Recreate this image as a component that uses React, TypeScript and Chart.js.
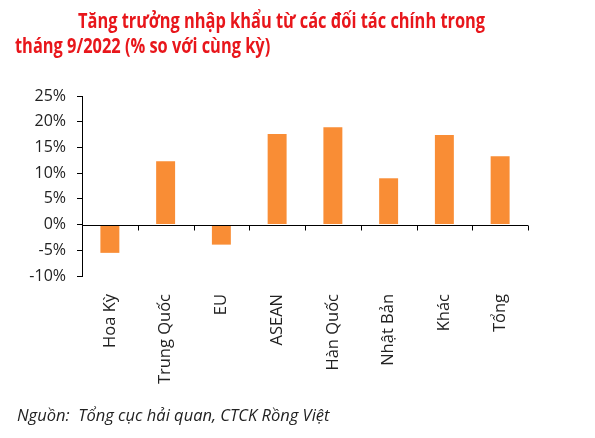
import React, { useEffect, useRef } from "react";
import { Chart, registerables } from "chart.js";

Chart.register(...registerables);

const categories = ["Hoa Kỳ", "Trung Quốc", "EU", "ASEAN", "Hàn Quốc", "Nhật Bản", "Khác", "Tổng"];
const growth = [-5.5, 12.3, -3.9, 17.6, 18.9, 9.0, 17.4, 13.3];
const yMin = -10;
const yMax = 25;
const yStep = 5;
const titleLine1 = "Tăng trưởng nhập khẩu từ các đối tác chính trong";
const titleLine2 = "tháng 9/2022 (% so với cùng kỳ)";
const sourceNote = "Nguồn:  Tổng cục hải quan, CTCK Rồng Việt";

const zeroAxisPlugin = {
  id: "zeroAxis",
  afterDatasetsDraw(chart: any) {
    const { ctx, chartArea, scales } = chart;
    const y0 = Math.round(scales.y.getPixelForValue(0)) + 0.5;
    const n = categories.length;
    ctx.save();
    ctx.strokeStyle = "#000";
    ctx.lineWidth = 1;
    ctx.beginPath();
    ctx.moveTo(chartArea.left, y0);
    ctx.lineTo(chartArea.right, y0);
    for (let i = 1; i <= n; i++) {
      const x = Math.round(chartArea.left + (i * (chartArea.right - chartArea.left)) / n) + 0.5;
      ctx.moveTo(x, y0);
      ctx.lineTo(x, y0 + 5);
    }
    ctx.stroke();
    ctx.restore();
  },
};

const titleStyle: React.CSSProperties = {
  position: "absolute",
  whiteSpace: "pre",
  fontFamily: "'Open Sans', sans-serif",
  fontWeight: "bold",
  fontSize: 21,
  lineHeight: "25px",
  color: "#E8161B",
  transformOrigin: "0 0",
  transform: "scaleX(0.78)",
};

export default function App() {
  const ref = useRef<HTMLCanvasElement | null>(null);

  useEffect(() => {
    document.body.style.margin = "0";
    const canvas = ref.current;
    if (!canvas) return;
    const chart = new Chart(canvas, {
      type: "bar",
      data: {
        labels: categories,
        datasets: [
          {
            data: growth,
            backgroundColor: "#F98D35",
            borderWidth: 0,
            barPercentage: 0.34,
            categoryPercentage: 1,
          },
        ],
      },
      options: {
        responsive: false,
        animation: false,
        layout: { padding: { top: 96, right: 67, bottom: 0, left: 0 } },
        plugins: { legend: { display: false }, tooltip: { enabled: false }, title: { display: false } },
        scales: {
          x: {
            grid: { display: false },
            border: { display: false },
            ticks: {
              autoSkip: false,
              maxRotation: 90,
              minRotation: 90,
              padding: 10,
              color: "#222",
              font: { family: "'Open Sans', sans-serif", size: 16.5 },
            },
            afterFit(scale: any) {
              scale.height = 162;
            },
          },
          y: {
            min: yMin,
            max: yMax,
            border: { display: true, color: "#000", width: 1 },
            grid: { drawOnChartArea: false, drawTicks: true, tickLength: 5, color: "#000", tickColor: "#000" },
            ticks: {
              stepSize: yStep,
              padding: 11,
              color: "#222",
              font: { family: "'Open Sans', sans-serif", size: 16 },
              callback: (v: any) => v + "%",
            },
            afterFit(scale: any) {
              scale.width = 82;
            },
          },
        },
      },
      plugins: [zeroAxisPlugin],
    });
    return () => chart.destroy();
  }, []);

  return (
    <div style={{ position: "relative", width: 595, height: 438, background: "#fff" }}>
      <canvas ref={ref} width={595} height={438} style={{ position: "absolute", left: 0, top: 0 }} />
      <div style={{ ...titleStyle, left: 78, top: 8 }}>{titleLine1}</div>
      <div style={{ ...titleStyle, left: 15, top: 33 }}>{titleLine2}</div>
      <div
        style={{
          position: "absolute",
          left: 17,
          top: 403,
          fontFamily: "'Open Sans', sans-serif",
          fontStyle: "italic",
          fontSize: 16.5,
          color: "#222",
          whiteSpace: "pre",
        }}
      >
        {sourceNote}
      </div>
    </div>
  );
}
